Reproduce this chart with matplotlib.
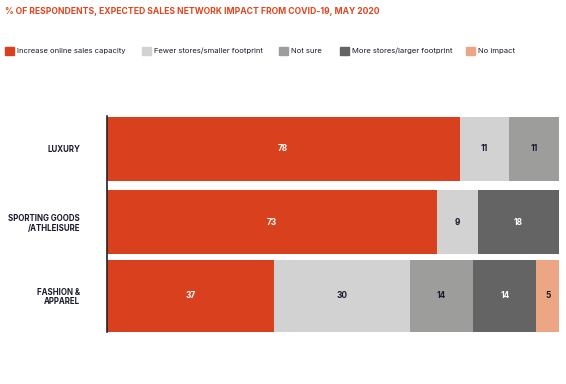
import matplotlib.pyplot as plt
from matplotlib.patches import Rectangle

# data
categories = ['LUXURY', 'SPORTING GOODS\n/ATHLEISURE', 'FASHION &\nAPPAREL']
series = ['Increase online sales capacity', 'Fewer stores/smaller footprint', 'Not sure',
          'More stores/larger footprint', 'No impact']
online = [78, 73, 37]
fewer = [11, 9, 30]
not_sure = [11, 0, 14]
more = [0, 18, 14]
no_impact = [0, 0, 5]

colors = ['#D9411E', '#D2D2D2', '#9D9D9B', '#646464', '#EDA683']
text_colors = ['white', '#1a1a2e', '#1a1a2e', 'white', '#1a1a2e']

plt.rcParams['font.family'] = ['Inter', 'DejaVu Sans']

fig = plt.figure(figsize=(5.66, 3.84), dpi=100)
ax = fig.add_axes([107 / 566, 1 - 332.8 / 384, 452 / 566, 221 / 384])

values = [online, fewer, not_sure, more, no_impact]
y = list(range(len(categories)))
heights = [0.87, 0.87, 0.98]
left = [0] * len(categories)
for vals, col, tcol in zip(values, colors, text_colors):
    bars = ax.barh(y, vals, left=left, height=heights, color=col)
    for b, v in zip(bars, vals):
        if v > 0:
            ax.text(b.get_x() + b.get_width() / 2, b.get_y() + b.get_height() / 2, str(v),
                    ha='center', va='center', color=tcol, fontsize=6, fontweight='bold')
    left = [l + v for l, v in zip(left, vals)]

ax.set_xlim(0, 100)
ax.set_ylim(2.5, -0.5)
ax.set_xticks([])
ax.set_yticks(y)
ax.set_yticklabels(categories, fontsize=5.7, fontweight='bold', color='#1a1a2e', linespacing=1.05)
ax.tick_params(axis='y', length=0, pad=19.5)
for s in ['top', 'right', 'bottom']:
    ax.spines[s].set_visible(False)
ax.spines['left'].set_color('#222222')
ax.spines['left'].set_linewidth(1.2)
ax.spines['left'].set_bounds(-0.44, 2.49)

fig.text(5 / 566, 1 - 11 / 384, '% OF RESPONDENTS, EXPECTED SALES NETWORK IMPACT FROM COVID-19, MAY 2020',
         color='#E0461F', fontsize=6.2, fontweight='bold', va='center', ha='left')

# legend
legend_x = [5, 142, 279, 340, 466]
for lx, name, col in zip(legend_x, series, colors):
    fig.add_artist(Rectangle((lx / 566, 1 - 55 / 384), 8.5 / 566, 8.5 / 384,
                             transform=fig.transFigure, color=col))
    fig.text((lx + 12) / 566, 1 - 51 / 384, name, fontsize=5.5, color='#1a1a2e',
             va='center', ha='left')

fig.savefig('out.png', dpi=100)
